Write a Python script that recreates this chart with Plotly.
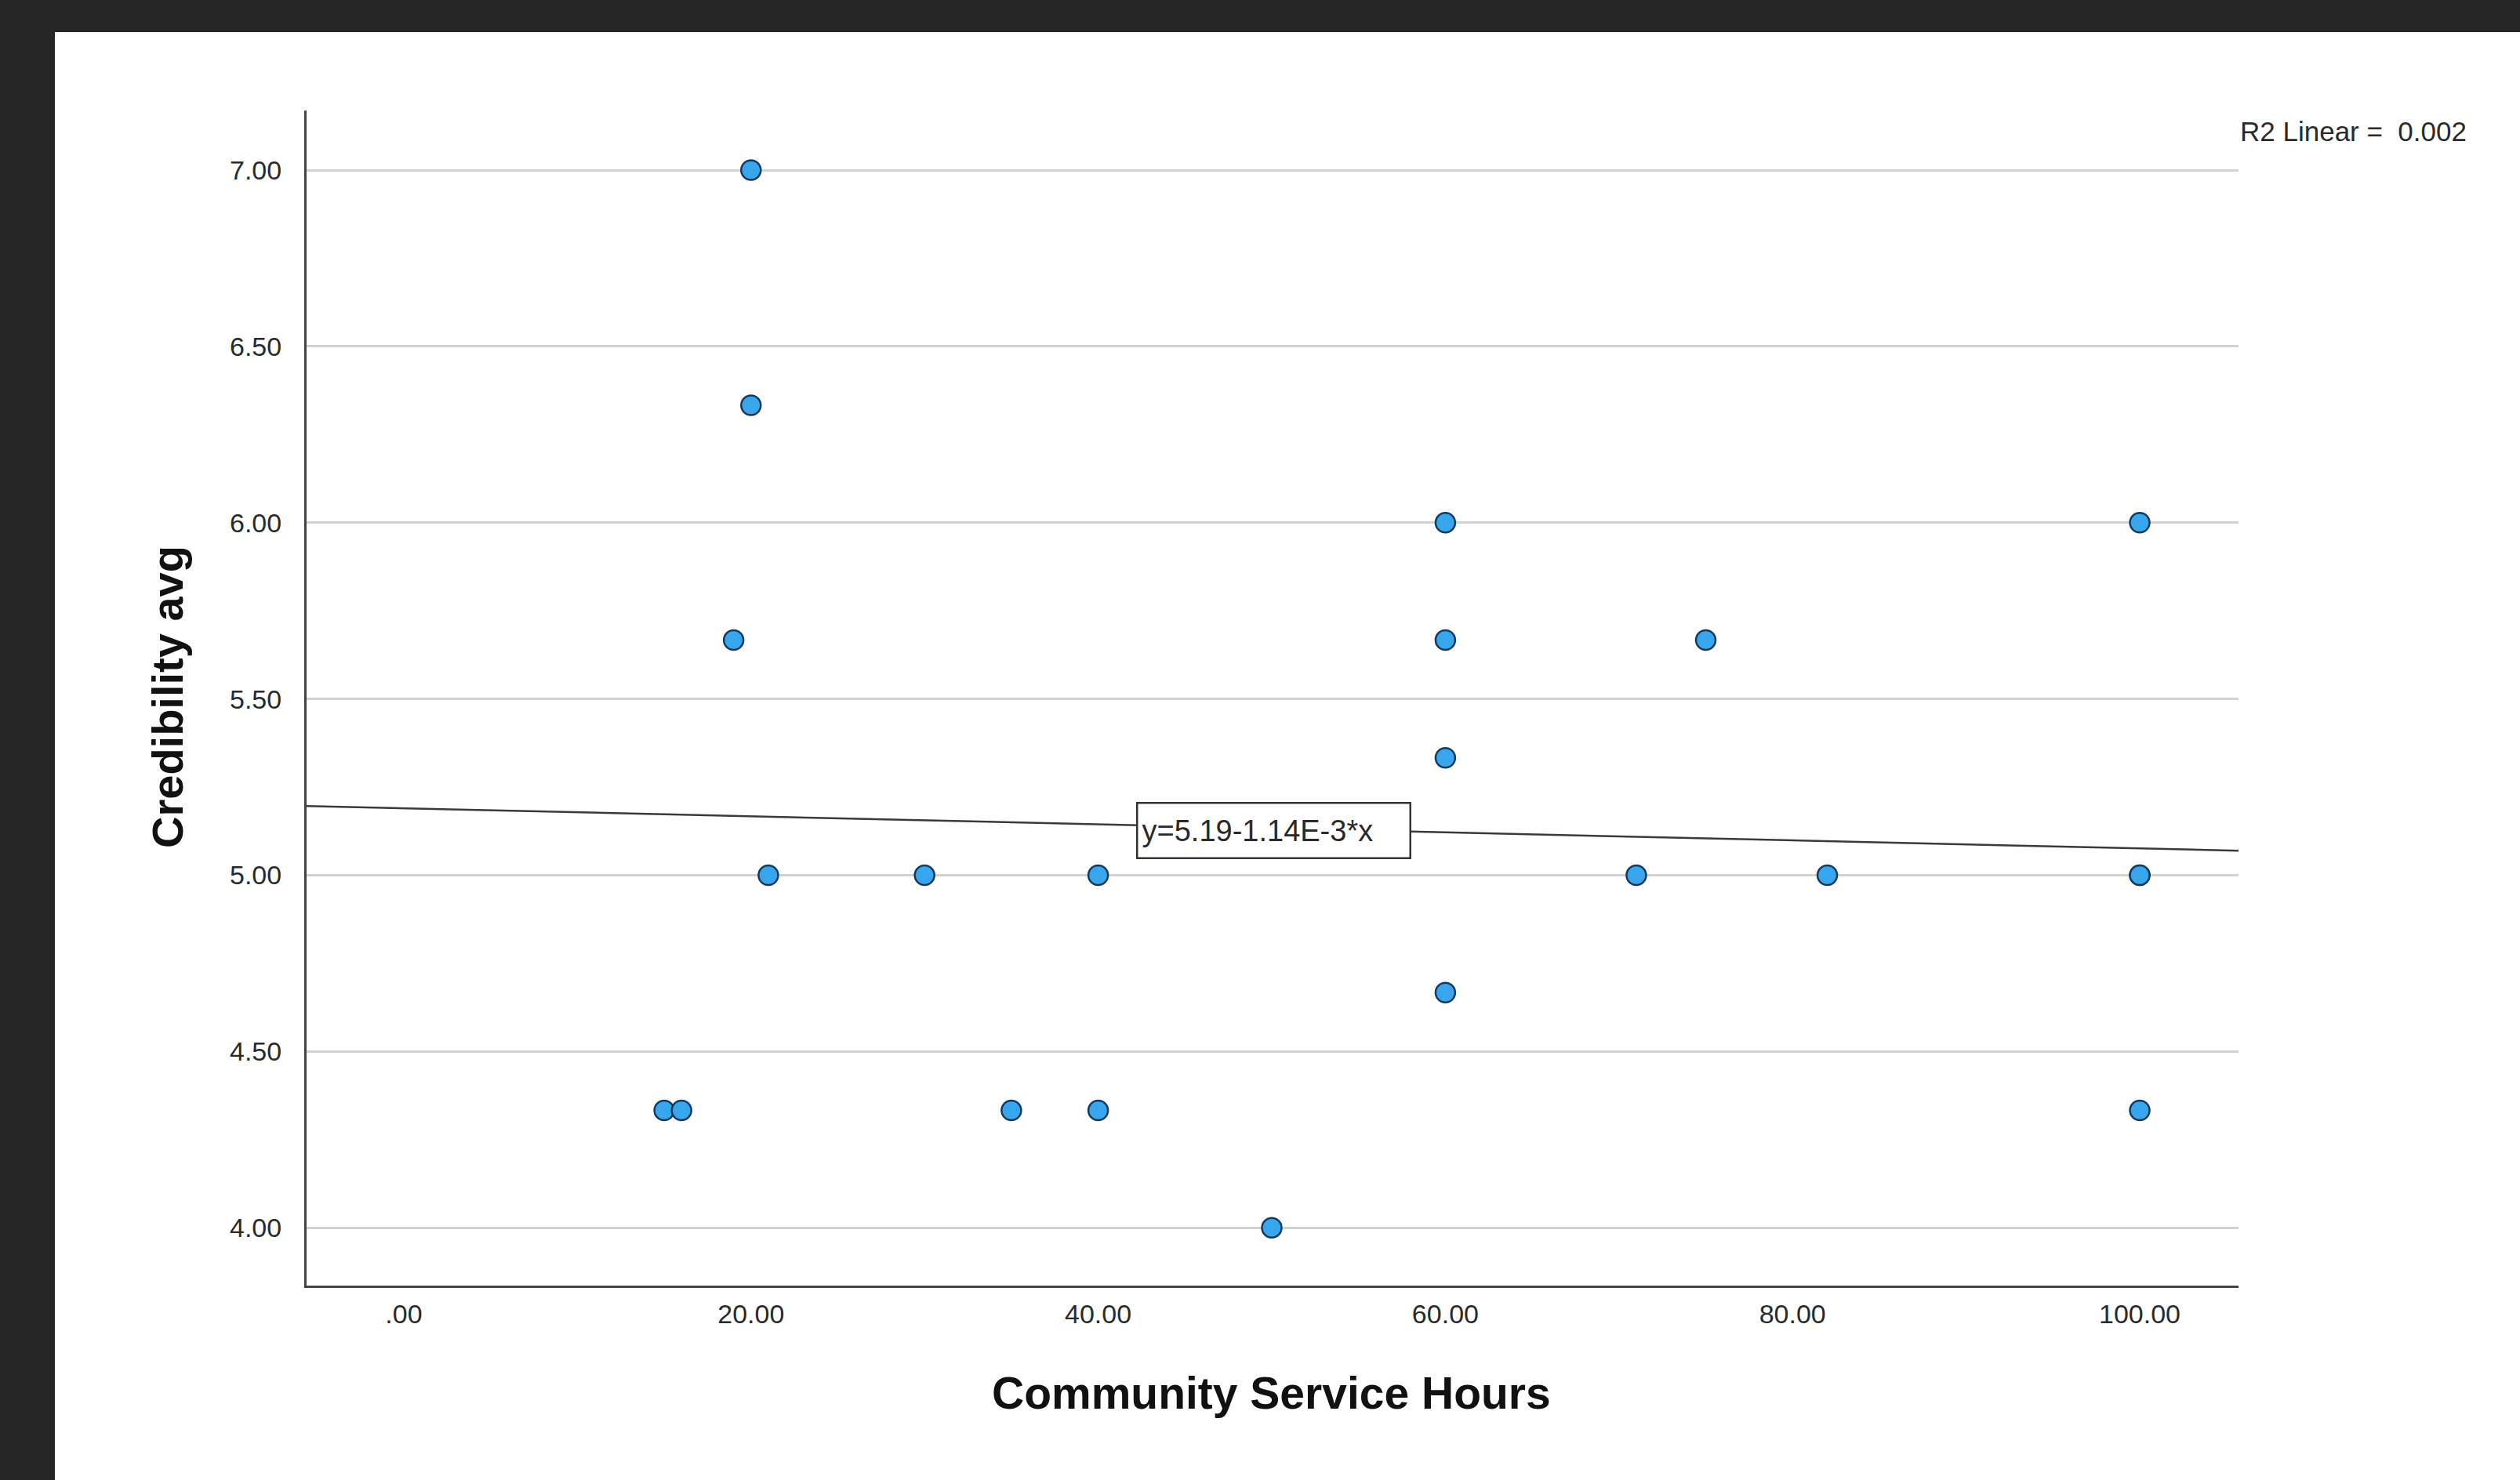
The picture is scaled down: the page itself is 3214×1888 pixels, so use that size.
import plotly.graph_objects as go

# ---- data ----
hours = [20, 20, 19, 21, 30, 40, 15, 16, 35, 40, 50, 60, 60, 60, 60, 71, 75, 82, 100, 100, 100, 100]
credibility = [7.00, 6.333, 5.667, 5.00, 5.00, 5.00, 4.333, 4.333, 4.333, 4.333, 4.00,
               6.00, 5.667, 5.333, 4.667, 5.00, 5.667, 5.00, 6.00, 5.00, 5.00, 4.333]
fit_intercept = 5.19
fit_slope = -1.14e-3
r2_text = "0.002"
x_tick_vals = [0, 20, 40, 60, 80, 100]
x_tick_text = [".00", "20.00", "40.00", "60.00", "80.00", "100.00"]
y_tick_vals = [4.0, 4.5, 5.0, 5.5, 6.0, 6.5, 7.0]
y_tick_text = ["4.00", "4.50", "5.00", "5.50", "6.00", "6.50", "7.00"]
x_range = [-5.6, 105.69]
y_range = [3.836, 7.169]

W, H = 3214, 1888
FONT = "Liberation Sans, Arial, sans-serif"

fig = go.Figure()

fit_x = [x_range[0], x_range[1]]
fit_y = [fit_intercept + fit_slope * v for v in fit_x]
fig.add_trace(go.Scatter(x=fit_x, y=fit_y, mode="lines",
                         line=dict(color="#3a3a3a", width=2.5),
                         hoverinfo="skip", showlegend=False))

fig.add_trace(go.Scatter(x=hours, y=credibility, mode="markers",
                         marker=dict(size=25, color="#38A6EC",
                                     line=dict(color="#163a5c", width=2.5)),
                         showlegend=False))

x0, x1 = 391 / W, 2855 / W
y0, y1 = (H - 1640) / H, (H - 141) / H

fig.update_layout(
    width=W, height=H,
    margin=dict(l=0, r=0, t=0, b=0),
    paper_bgcolor="#262626",
    plot_bgcolor="white",
    font=dict(family=FONT, color="#2a2a2a"),
    xaxis=dict(domain=[x0, x1], range=x_range, showgrid=False, zeroline=False,
               showline=True, linecolor="#444444", linewidth=3,
               tickvals=x_tick_vals, ticktext=x_tick_text, ticks="",
               tickfont=dict(size=34, color="#2a2a2a", family=FONT),
               ticklabelstandoff=4),
    yaxis=dict(domain=[y0, y1], range=y_range, showgrid=True, gridcolor="#d2d2d2",
               gridwidth=3, zeroline=False,
               showline=True, linecolor="#444444", linewidth=3,
               tickvals=y_tick_vals, ticktext=y_tick_text, ticks="",
               tickfont=dict(size=34, color="#2a2a2a", family=FONT),
               ticklabelstandoff=22),
    shapes=[dict(type="rect", xref="paper", yref="paper", layer="below",
                 x0=70 / W, x1=1, y0=0, y1=(H - 41) / H,
                 fillcolor="white", line=dict(width=0))],
    annotations=[
        dict(x=50.1, y=5.126, xref="x", yref="y", showarrow=False,
             text="y=5.19-1.14E-3*x", align="left", width=336, height=58,
             font=dict(size=38, color="#2a2a2a", family=FONT),
             bgcolor="white", bordercolor="#333333", borderwidth=2.5, borderpad=5),
        dict(x=2855 / W, y=(H - 168) / H, xref="paper", yref="paper", showarrow=False,
             xanchor="left", yanchor="middle",
             text="R2 Linear =\u00a0\u00a0" + r2_text,
             font=dict(size=35, color="#2a2a2a", family=FONT)),
        dict(x=1621 / W, y=(H - 1777) / H, xref="paper", yref="paper", showarrow=False,
             xanchor="center", yanchor="middle",
             text="<b>Community Service Hours</b>",
             font=dict(size=57, color="#111111", family=FONT)),
        dict(x=213 / W, y=(H - 889) / H, xref="paper", yref="paper", showarrow=False,
             xanchor="center", yanchor="middle", textangle=-90,
             text="<b>Credibility avg</b>",
             font=dict(size=56, color="#111111", family=FONT)),
    ],
)

fig.write_html("out.html")
